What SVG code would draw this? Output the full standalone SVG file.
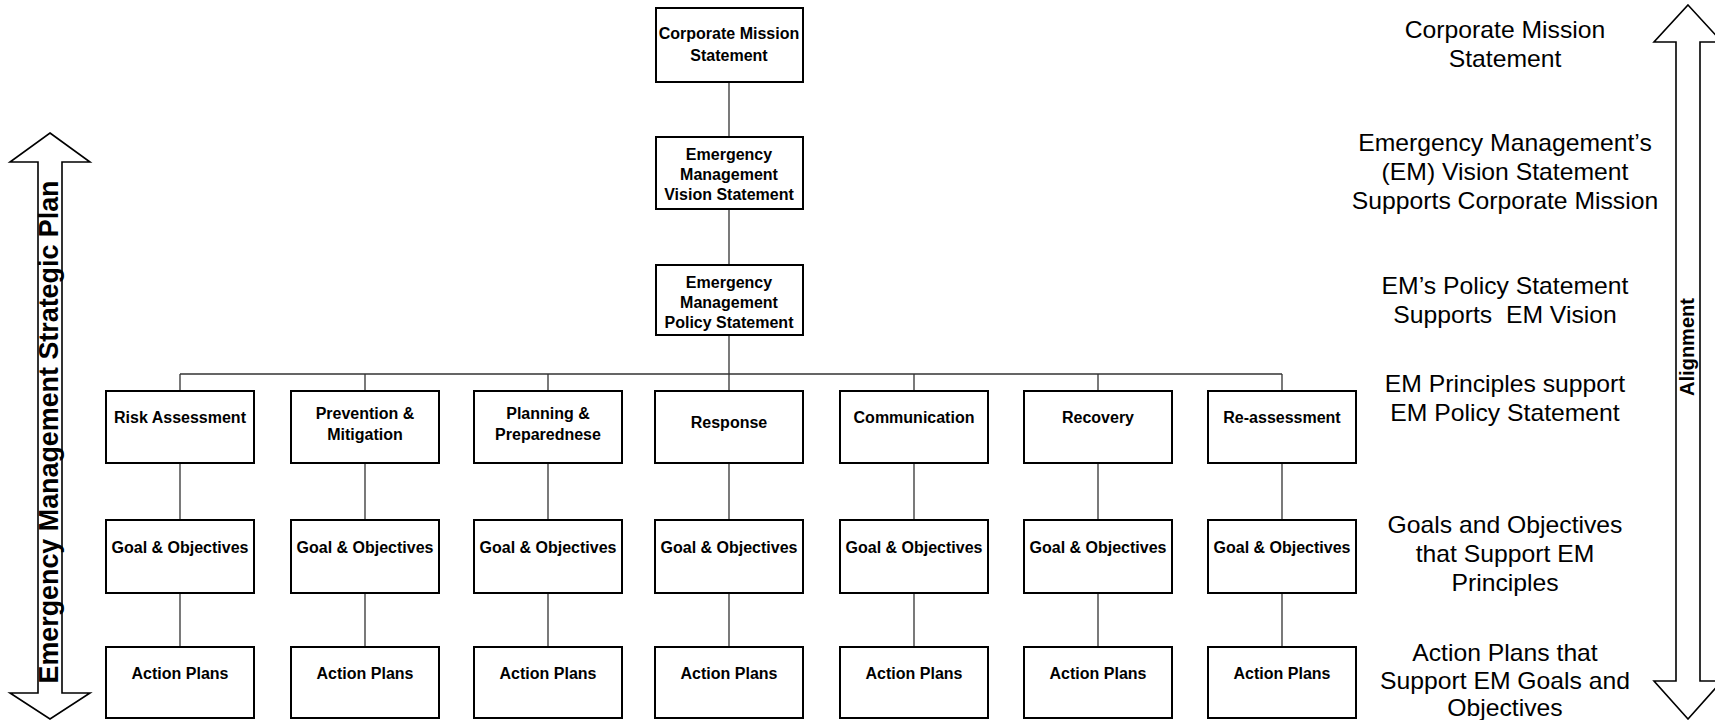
<svg xmlns="http://www.w3.org/2000/svg" width="1715" height="720" viewBox="0 0 1715 720">
<style>
.box{fill:#fff;stroke:#000;stroke-width:2}
.bt{font-family:"Liberation Sans",Arial,sans-serif;font-weight:bold;font-size:16px;fill:#000;text-anchor:middle}
.lab{font-family:"Liberation Sans",Arial,sans-serif;font-size:24px;fill:#000;text-anchor:middle}
.arr{fill:#fff;stroke:#000;stroke-width:1.6;stroke-linejoin:miter}
.side{font-family:"Liberation Sans",Arial,sans-serif;font-weight:bold;fill:#000;text-anchor:middle}
.con{stroke:#333;stroke-width:1.3;fill:none}
</style>
<rect width="1715" height="720" fill="#fff"/>
<g id="connectors">
<path class="con" d="M729 82V137M729 209V265M729 335V374M180 374H1282"/>
<path class="con" d="M180 374V391M365 374V391M548 374V391M729 374V391M914 374V391M1098 374V391M1282 374V391"/>
<path class="con" d="M180 463V520M365 463V520M548 463V520M729 463V520M914 463V520M1098 463V520M1282 463V520"/>
<path class="con" d="M180 593V647M365 593V647M548 593V647M729 593V647M914 593V647M1098 593V647M1282 593V647"/>
</g>
<g id="corporate"><rect class="box" x="656" y="8" width="147" height="74"/><text class="bt" x="729" y="39">Corporate Mission</text><text class="bt" x="729" y="61">Statement</text></g>
<g id="vision"><rect class="box" x="656" y="137" width="147" height="72"/><text class="bt" x="729" y="160">Emergency</text><text class="bt" x="729" y="180">Management</text><text class="bt" x="729" y="200">Vision Statement</text></g>
<g id="policy"><rect class="box" x="656" y="265" width="147" height="70"/><text class="bt" x="729" y="288">Emergency</text><text class="bt" x="729" y="308">Management</text><text class="bt" x="729" y="328">Policy Statement</text></g>
<g id="p-risk"><rect class="box" x="106" y="391" width="148" height="72"/><text class="bt" x="180" y="423">Risk Assessment</text></g>
<g id="p-prevention"><rect class="box" x="291" y="391" width="148" height="72"/><text class="bt" x="365" y="419">Prevention &amp;</text><text class="bt" x="365" y="440">Mitigation</text></g>
<g id="p-planning"><rect class="box" x="474" y="391" width="148" height="72"/><text class="bt" x="548" y="419">Planning &amp;</text><text class="bt" x="548" y="440">Preparednese</text></g>
<g id="p-response"><rect class="box" x="655" y="391" width="148" height="72"/><text class="bt" x="729" y="428">Response</text></g>
<g id="p-communication"><rect class="box" x="840" y="391" width="148" height="72"/><text class="bt" x="914" y="423">Communication</text></g>
<g id="p-recovery"><rect class="box" x="1024" y="391" width="148" height="72"/><text class="bt" x="1098" y="423">Recovery</text></g>
<g id="p-reassessment"><rect class="box" x="1208" y="391" width="148" height="72"/><text class="bt" x="1282" y="423">Re-assessment</text></g>
<g id="g1"><rect class="box" x="106" y="520" width="148" height="73"/><text class="bt" x="180" y="553">Goal &amp; Objectives</text></g>
<g id="g2"><rect class="box" x="291" y="520" width="148" height="73"/><text class="bt" x="365" y="553">Goal &amp; Objectives</text></g>
<g id="g3"><rect class="box" x="474" y="520" width="148" height="73"/><text class="bt" x="548" y="553">Goal &amp; Objectives</text></g>
<g id="g4"><rect class="box" x="655" y="520" width="148" height="73"/><text class="bt" x="729" y="553">Goal &amp; Objectives</text></g>
<g id="g5"><rect class="box" x="840" y="520" width="148" height="73"/><text class="bt" x="914" y="553">Goal &amp; Objectives</text></g>
<g id="g6"><rect class="box" x="1024" y="520" width="148" height="73"/><text class="bt" x="1098" y="553">Goal &amp; Objectives</text></g>
<g id="g7"><rect class="box" x="1208" y="520" width="148" height="73"/><text class="bt" x="1282" y="553">Goal &amp; Objectives</text></g>
<g id="a1"><rect class="box" x="106" y="647" width="148" height="71"/><text class="bt" x="180" y="679">Action Plans</text></g>
<g id="a2"><rect class="box" x="291" y="647" width="148" height="71"/><text class="bt" x="365" y="679">Action Plans</text></g>
<g id="a3"><rect class="box" x="474" y="647" width="148" height="71"/><text class="bt" x="548" y="679">Action Plans</text></g>
<g id="a4"><rect class="box" x="655" y="647" width="148" height="71"/><text class="bt" x="729" y="679">Action Plans</text></g>
<g id="a5"><rect class="box" x="840" y="647" width="148" height="71"/><text class="bt" x="914" y="679">Action Plans</text></g>
<g id="a6"><rect class="box" x="1024" y="647" width="148" height="71"/><text class="bt" x="1098" y="679">Action Plans</text></g>
<g id="a7"><rect class="box" x="1208" y="647" width="148" height="71"/><text class="bt" x="1282" y="679">Action Plans</text></g>
<g id="strategic-plan-arrow">
<polygon class="arr" points="50,133 90,162 62,162 62,693 90,693 50,719 10,693 38,693 38,162 10,162"/>
<text class="side" font-size="27" textLength="503" lengthAdjust="spacingAndGlyphs" transform="translate(58,432) rotate(-90)">Emergency Management Strategic Plan</text>
</g>
<g id="alignment-arrow">
<polygon class="arr" points="1688,5 1722,42 1700,42 1700,681 1722,681 1688,719 1654,681 1676,681 1676,42 1654,42"/>
<text class="side" font-size="20" transform="translate(1694,347) rotate(-90)">Alignment</text>
</g>
<g id="level-labels" transform="translate(1505,0) scale(1.03,1)">
<text class="lab" x="0" y="38">Corporate Mission</text>
<text class="lab" x="0" y="67">Statement</text>
<text class="lab" x="0" y="151">Emergency Management’s</text>
<text class="lab" x="0" y="180">(EM) Vision Statement</text>
<text class="lab" x="0" y="209">Supports Corporate Mission</text>
<text class="lab" x="0" y="294">EM’s Policy Statement</text>
<text class="lab" x="0" y="323" xml:space="preserve">Supports  EM Vision</text>
<text class="lab" x="0" y="392">EM Principles support</text>
<text class="lab" x="0" y="421">EM Policy Statement</text>
<text class="lab" x="0" y="533">Goals and Objectives</text>
<text class="lab" x="0" y="562">that Support EM</text>
<text class="lab" x="0" y="591">Principles</text>
<text class="lab" x="0" y="661">Action Plans that</text>
<text class="lab" x="0" y="689">Support EM Goals and</text>
<text class="lab" x="0" y="716">Objectives</text>
</g>
</svg>
